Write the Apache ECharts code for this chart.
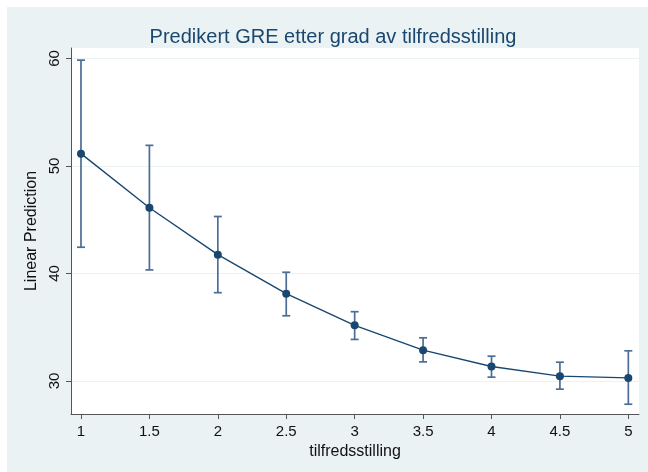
<!DOCTYPE html>
<html>
<head>
<meta charset="utf-8">
<script src="https://cdn.jsdelivr.net/npm/echarts@6/dist/echarts.min.js"></script>
<style>
  html, body { margin: 0; padding: 0; background: #ffffff; }
  #chart { width: 648px; height: 472px; }
</style>
</head>
<body>
<div id="chart"></div>
<script>
// Satisfaction levels on the x axis
const levels = [1, 1.5, 2, 2.5, 3, 3.5, 4, 4.5, 5];
// Predicted GRE (linear prediction) at each level
const prediction = [51.15, 46.11, 41.75, 38.12, 35.17, 32.86, 31.34, 30.44, 30.28];
// 95% confidence interval bounds
const ciUpper = [59.85, 51.92, 45.30, 40.11, 36.44, 34.01, 32.30, 31.74, 32.80];
const ciLower = [42.44, 40.33, 38.21, 36.06, 33.86, 31.77, 30.35, 29.23, 27.83];
// Tick labels
const xTicks = [1, 1.5, 2, 2.5, 3, 3.5, 4, 4.5, 5];
const yTicks = [30, 40, 50, 60];

const navy = '#1A476F';
const ciColor = '#4A6E96';
const font = '"Liberation Sans", Arial, Helvetica, sans-serif';

const chart = echarts.init(document.getElementById('chart'), null, { renderer: 'canvas' });

const linePts = levels.map((x, i) => [x, prediction[i]]);
const ciPts = levels.map((x, i) => [x, ciLower[i], ciUpper[i]]);

chart.setOption({
  animation: false,
  backgroundColor: '#ffffff',
  graphic: [{
    type: 'rect', z: -10, silent: true,
    shape: { x: 7, y: 7, width: 641, height: 465 },
    style: { fill: '#EAF2F3' }
  }],
  title: {
    text: 'Predikert GRE etter grad av tilfredsstilling',
    left: 328, top: 22, textAlign: 'center',
    textStyle: { fontFamily: font, fontSize: 20, fontWeight: 'normal', color: navy }
  },
  grid: {
    left: 71, right: 9, top: 48, bottom: 58,
    show: true, backgroundColor: '#ffffff', borderWidth: 0
  },
  xAxis: {
    type: 'value', min: 0.927, max: 5.078,
    name: 'tilfredsstilling', nameLocation: 'middle', nameGap: 28,
    nameTextStyle: { fontFamily: font, fontSize: 16, color: '#111' },
    axisLine: { show: true, lineStyle: { color: '#555', width: 1 } },
    axisTick: { show: true, length: 5, customValues: xTicks, lineStyle: { color: '#555' } },
    axisLabel: { customValues: xTicks, margin: 10, fontFamily: font, fontSize: 15, color: '#111',
      formatter: v => String(v) },
    splitLine: { show: false }
  },
  yAxis: {
    type: 'value', min: 26.92, max: 60.98,
    name: 'Linear Prediction', nameLocation: 'middle', nameGap: 29,
    nameTextStyle: { fontFamily: font, fontSize: 16, color: '#111' },
    axisLine: { show: true, lineStyle: { color: '#555', width: 1 } },
    axisTick: { show: true, length: 5, customValues: yTicks, lineStyle: { color: '#555' } },
    axisLabel: { customValues: yTicks, rotate: 90, margin: 9, fontFamily: font, fontSize: 15, color: '#111' },
    splitLine: { show: true, lineStyle: { color: '#EAF2F3', width: 1 } }
  },
  series: [
    {
      type: 'custom',
      data: ciPts,
      z: 2,
      renderItem: function (params, api) {
        const x = api.value(0);
        const lo = api.coord([x, api.value(1)]);
        const hi = api.coord([x, api.value(2)]);
        const cap = 4;
        const style = { stroke: ciColor, lineWidth: 1.7 };
        return {
          type: 'group',
          children: [
            { type: 'line', shape: { x1: lo[0], y1: lo[1], x2: hi[0], y2: hi[1] }, style },
            { type: 'line', shape: { x1: hi[0] - cap, y1: hi[1], x2: hi[0] + cap, y2: hi[1] }, style },
            { type: 'line', shape: { x1: lo[0] - cap, y1: lo[1], x2: lo[0] + cap, y2: lo[1] }, style }
          ]
        };
      }
    },
    {
      type: 'line',
      data: linePts,
      z: 3,
      symbol: 'circle', symbolSize: 8,
      itemStyle: { color: navy },
      lineStyle: { color: navy, width: 1.4 }
    }
  ]
});
</script>
</body>
</html>
